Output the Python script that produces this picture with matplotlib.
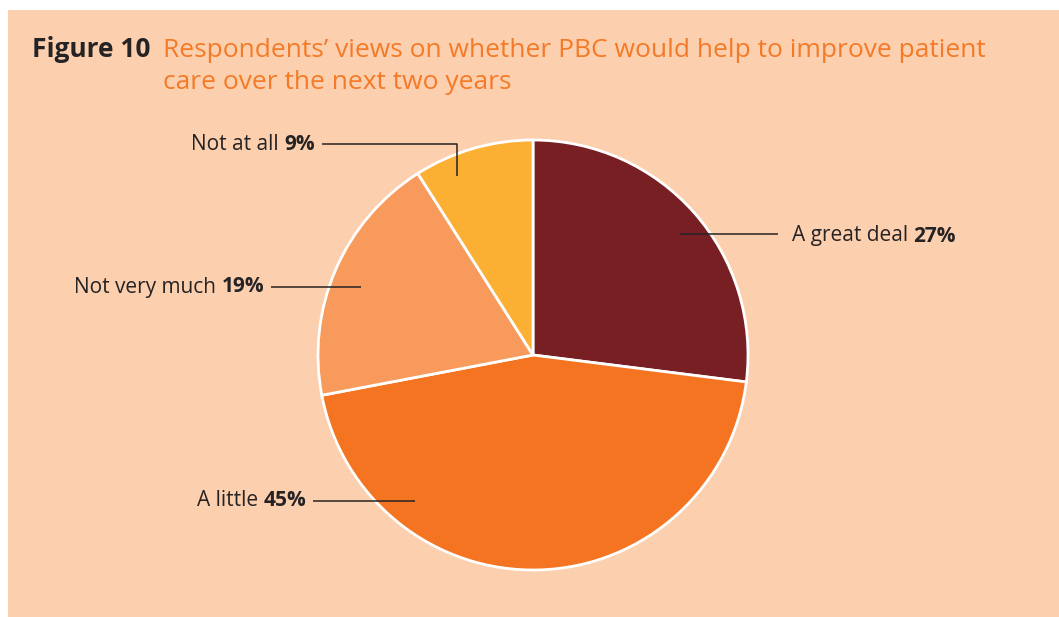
import matplotlib.pyplot as plt
from matplotlib.patches import Rectangle

# Survey responses (share of respondents, %)
categories = ['A great deal', 'A little', 'Not very much', 'Not at all']
shares = [27, 45, 19, 9]
colours = ['#781F24', '#F47421', '#F79A5C', '#FBB034']

title_lead = 'Figure 10'
title_text = ['Respondents\u2019 views on whether PBC would help to improve patient',
              'care over the next two years']

W, H = 1059, 617
bg = '#FCCFAE'
ink = '#262324'
orange = '#F47A27'
font = 'Open Sans'
label_size = 15
title_size = 19

fig = plt.figure(figsize=(W / 100, H / 100), dpi=100, facecolor='white')
ax = fig.add_axes([0, 0, 1, 1])

# peach panel behind everything
ax.add_patch(Rectangle((8, 0), W - 8, H - 10, facecolor=bg, edgecolor='none', zorder=0))

wedges, _ = ax.pie(shares, colors=colours, startangle=90, counterclock=False,
                   center=(533, 262), radius=215, frame=True,
                   wedgeprops=dict(edgecolor='white', linewidth=2))
ax.set_xlim(0, W)
ax.set_ylim(0, H)
ax.set_aspect('auto')
ax.axis('off')

# label anchor and leader line path (x, y in pixels from bottom)
label_layout = {
    'A great deal': dict(text=(792, 381), ha='left', line=[(680, 383), (778, 383)]),
    'A little': dict(text=(306, 116), ha='right', line=[(313, 116), (415, 116)]),
    'Not very much': dict(text=(264, 330), ha='right', line=[(271, 330), (361, 330)]),
    'Not at all': dict(text=(315, 473), ha='right', line=[(322, 473), (457, 473), (457, 441)]),
}

for name, val in zip(categories, shares):
    lay = label_layout[name]
    xs, ys = zip(*lay['line'])
    ax.plot(xs, ys, color=ink, lw=1.1, zorder=5, solid_capstyle='butt')
    tx, ty = lay['text']
    if lay['ha'] == 'left':
        t = ax.text(tx, ty, name + ' ', ha='left', va='center', fontsize=label_size,
                    color=ink, family=font)
        fig.canvas.draw()
        bb = t.get_window_extent()
        ax.text(bb.x1, ty, f'{val}%', ha='left', va='center', fontsize=label_size,
                color=ink, family=font, fontweight='bold')
    else:
        t = ax.text(tx, ty, f'{val}%', ha='right', va='center', fontsize=label_size,
                    color=ink, family=font, fontweight='bold')
        fig.canvas.draw()
        bb = t.get_window_extent()
        ax.text(bb.x0, ty, name + ' ', ha='right', va='center', fontsize=label_size,
                color=ink, family=font)

fig.text(32 / W, 1 - 57 / H, title_lead, fontsize=title_size, fontweight='bold',
         color=ink, family=font, va='baseline')
fig.text(163 / W, 1 - 57 / H, title_text[0], fontsize=title_size, color=orange,
         family=font, va='baseline')
fig.text(163 / W, 1 - 89 / H, title_text[1], fontsize=title_size, color=orange,
         family=font, va='baseline')

fig.savefig('out.png', dpi=100, facecolor='white')
